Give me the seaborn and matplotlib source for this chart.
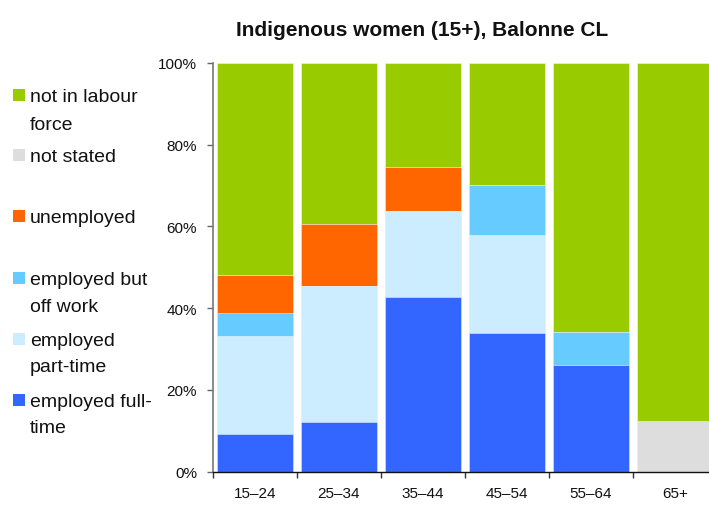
import matplotlib
matplotlib.use("Agg")
import matplotlib.pyplot as plt
import seaborn as sns
import numpy as np
from matplotlib.patches import Rectangle
from matplotlib.ticker import FixedLocator, NullFormatter, FixedFormatter

# ---- data (percent) ----
ages = ["15–24", "25–34", "35–44", "45–54", "55–64", "65+"]
full_time = [9.3, 12.2, 42.8, 34.0, 26.2, 0.0]
part_time = [24.0, 33.3, 21.0, 23.9, 0.0, 0.0]
off_work = [5.6, 0.0, 0.0, 12.3, 8.0, 0.0]
unemployed = [9.3, 15.1, 10.8, 0.0, 0.0, 0.0]
not_stated = [0.0, 0.0, 0.0, 0.0, 0.0, 12.5]
not_in_lf = [51.8, 39.4, 25.4, 29.8, 65.8, 87.5]

series_labels = ["employed full-\ntime", "employed\npart-time", "employed but\noff work",
                 "unemployed", "not stated", "not in labour\nforce"]
series_values = [full_time, part_time, off_work, unemployed, not_stated, not_in_lf]
series_colors = ["#3366FF", "#CCECFF", "#66CCFF", "#FF6600", "#DDDDDD", "#99CC00"]
y_ticks = [0, 20, 40, 60, 80, 100]
y_ticklabels = ["0%", "20%", "40%", "60%", "80%", "100%"]
title = "Indigenous women (15+), Balonne CL"

sns.set_theme(style="white")
plt.rcParams["font.family"] = ["Liberation Sans", "DejaVu Sans"]

W, H = 709, 506
fig = plt.figure(figsize=(W / 100, H / 100), dpi=100)
ax = fig.add_axes([213 / W, (H - 472.7) / H, 504 / W, (472.7 - 64) / H])

cum = np.cumsum(np.array(series_values), axis=0)
for i in reversed(range(len(series_values))):
    sns.barplot(x=ages, y=cum[i], color=series_colors[i], saturation=1,
                width=0.91, ax=ax, edgecolor=(1, 1, 1, 0.6), linewidth=0.5)

ax.set_xlim(-0.5, len(ages) - 0.5)
ax.set_ylim(0, 100)
ax.set_xlabel("")
ax.set_ylabel("")

# y axis
ax.set_yticks(y_ticks)
ax.set_yticklabels(y_ticklabels, fontsize=11, color="#111111")
ax.tick_params(axis="y", which="major", left=True, length=4.5, width=1,
               color="#666666", pad=7)

# x axis: ticks at category boundaries, labels at centres
ax.xaxis.set_major_locator(FixedLocator(np.arange(-0.5, len(ages) - 0.5 + 0.01, 1.0)))
ax.xaxis.set_major_formatter(NullFormatter())
ax.xaxis.set_minor_locator(FixedLocator(np.arange(len(ages))))
ax.xaxis.set_minor_formatter(FixedFormatter(ages))
ax.tick_params(axis="x", which="major", bottom=True, length=4.5, width=1,
               color="#333333", direction="out")
ax.tick_params(axis="x", which="minor", bottom=True, length=0, pad=10.5,
               labelsize=11, labelcolor="#111111")

for s in ["top", "right"]:
    ax.spines[s].set_visible(False)
ax.spines["left"].set_color("#777777")
ax.spines["left"].set_linewidth(1.2)
ax.spines["bottom"].set_color("#111111")
ax.spines["bottom"].set_linewidth(1.0)

# title
fig.text(422 / W, 1 - 36.5 / H, title, ha="center", va="baseline",
         fontsize=15, fontweight="bold", color="#111111")

# legend (custom, left side)
baselines = [102, 162, 223, 285, 346, 407]  # legend order top -> bottom
line_gap = [28, 28, 27, 27, 26, 26]
leg_order = [5, 4, 3, 2, 1, 0]
for yb, gap, idx in zip(baselines, line_gap, leg_order):
    fig.patches.append(Rectangle((13 / W, 1 - (yb - 0.5) / H), 12 / W, 12 / H,
                                 transform=fig.transFigure,
                                 facecolor=series_colors[idx], edgecolor="none"))
    for k, line in enumerate(series_labels[idx].split("\n")):
        fig.text(30 / W, 1 - (yb + gap * k) / H, line, ha="left", va="baseline",
                 fontsize=14, color="#111111")

fig.savefig("out.png", dpi=100)
